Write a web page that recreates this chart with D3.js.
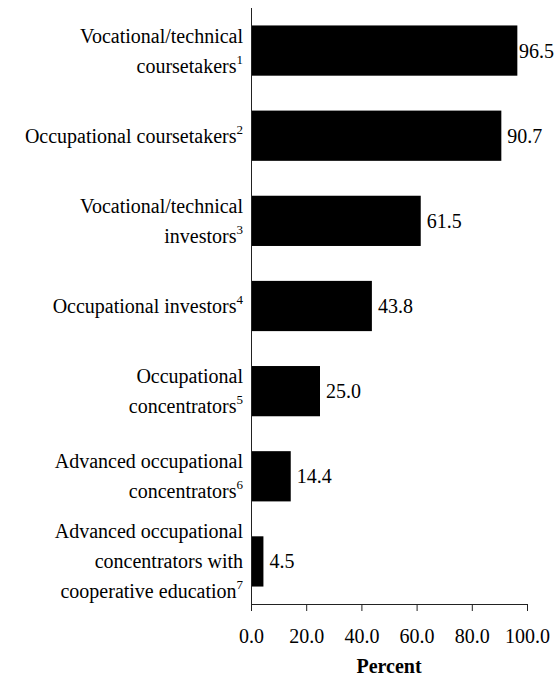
<!DOCTYPE html>
<html>
<head>
<meta charset="utf-8">
<script src="https://cdn.jsdelivr.net/npm/d3@7"></script>
</head>
<body style="margin:0">
<div id="chart"></div>
<script>
// category labels, one array of lines per bar
var labelLines = [
    ["Vocational/technical", "coursetakers"],
    ["Occupational coursetakers"],
    ["Vocational/technical", "investors"],
    ["Occupational investors"],
    ["Occupational", "concentrators"],
    ["Advanced occupational", "concentrators"],
    ["Advanced occupational", "concentrators with", "cooperative education"]
];
var footnotes = ["1", "2", "3", "4", "5", "6", "7"];
var values = [96.5, 90.7, 61.5, 43.8, 25.0, 14.4, 4.5];
var xTicks = [0, 20, 40, 60, 80, 100];

var FONT = "Liberation Serif";
var W = 558, H = 679;
var margin = { top: 8, right: 31, bottom: 75, left: 251 };
var width = W - margin.left - margin.right;
var height = H - margin.top - margin.bottom;

var svg = d3.select("#chart").append("svg")
    .attr("width", W)
    .attr("height", H)
    .attr("font-family", FONT);

var g = svg.append("g")
    .attr("transform", "translate(" + margin.left + "," + margin.top + ")");

var x = d3.scaleLinear().domain([0, 100]).range([0, width]);
var y = d3.scaleBand().domain(d3.range(values.length)).range([0, height])
    .paddingInner(0.41).paddingOuter(0.205);

// bars
g.selectAll(".bar")
    .data(values)
    .enter().append("rect")
    .attr("class", "bar")
    .attr("x", x(0))
    .attr("y", function(d, i) { return y(i); })
    .attr("width", function(d) { return x(d); })
    .attr("height", y.bandwidth())
    .attr("fill", "#000");

// value labels; the longest one is pulled back so it stays in the window
g.selectAll(".val")
    .data(values)
    .enter().append("text")
    .attr("class", "val")
    .attr("x", function(d) { return Math.min(x(d) + 6, x(100) - 8); })
    .attr("y", function(d, i) { return y(i) + y.bandwidth() / 2 + 7; })
    .attr("font-family", FONT)
    .attr("font-size", 20)
    .text(function(d) { return d3.format(".1f")(d); });

// x axis
var xAxis = g.append("g")
    .attr("transform", "translate(0," + height + ")")
    .call(d3.axisBottom(x).tickValues(xTicks).tickSize(7).tickFormat(d3.format(".1f")));
xAxis.attr("font-family", FONT).attr("font-size", 20);
xAxis.select(".domain").attr("stroke", "#222");
xAxis.selectAll(".tick line").attr("stroke", "#222");
xAxis.selectAll(".tick text")
    .attr("fill", "#000")
    .attr("dy", null)
    .attr("y", 39);

// y axis line, no ticks
g.append("line")
    .attr("x1", 0.5).attr("x2", 0.5)
    .attr("y1", 0).attr("y2", height)
    .attr("stroke", "#222");

// category labels with footnote markers
var lineH = 30;
labelLines.forEach(function(lines, i) {
    var cy = y(i) + y.bandwidth() / 2;
    var n = lines.length;
    lines.forEach(function(line, j) {
        var t = g.append("text")
            .attr("x", -8)
            .attr("y", cy + (j - (n - 1) / 2) * lineH + 7)
            .attr("text-anchor", "end")
            .attr("font-family", FONT)
            .attr("font-size", 20)
            .text(line);
        if (j == n - 1) {
            t.append("tspan")
                .attr("dy", -9)
                .attr("font-size", 13)
                .text(footnotes[i]);
        }
    });
});

svg.append("text")
    .attr("x", margin.left + width / 2)
    .attr("y", 673)
    .attr("text-anchor", "middle")
    .attr("font-family", FONT)
    .attr("font-size", 20)
    .attr("font-weight", "bold")
    .text("Percent");
</script>
</body>
</html>
